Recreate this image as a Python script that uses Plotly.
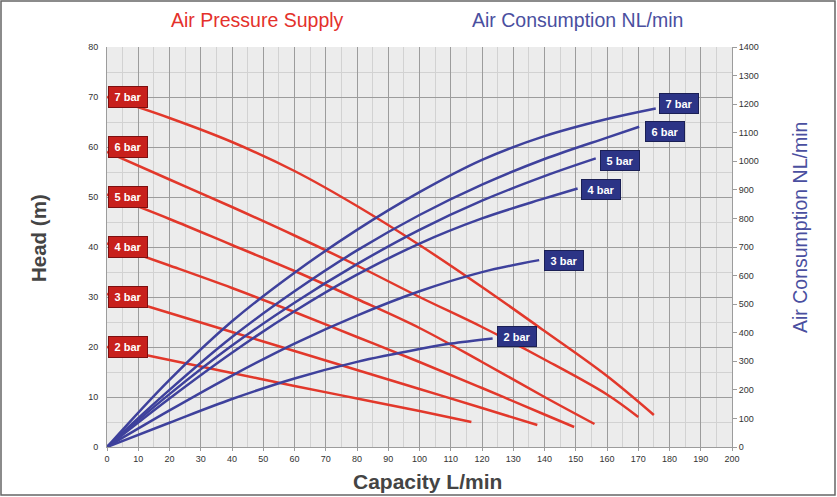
import plotly.graph_objects as go

# Head (m) vs capacity (L/min) for each air supply pressure
head_x = {
    "7 bar": [0, 20, 40, 60, 80, 100, 120, 140, 160, 175],
    "6 bar": [0, 20, 40, 60, 80, 100, 120, 140, 160, 170],
    "5 bar": [0, 20, 40, 60, 80, 100, 120, 140, 156],
    "4 bar": [0, 20, 40, 60, 80, 100, 120, 140, 149.5],
    "3 bar": [0, 20, 40, 60, 80, 100, 120, 137.7],
    "2 bar": [0, 20, 40, 60, 80, 100, 116.6],
}
head_y = {
    "7 bar": [70, 65.8, 61, 55.2, 48.2, 40.4, 32, 23.2, 14.2, 6.4],
    "6 bar": [59, 53.5, 48, 42.3, 36.3, 30, 24, 17.5, 10.5, 6],
    "5 bar": [50.5, 45.6, 40.4, 35.2, 29.6, 23.8, 17, 10, 4.6],
    "4 bar": [40.7, 36.3, 31.8, 27, 22, 17, 11.8, 6.5, 4],
    "3 bar": [30.6, 26.8, 23, 19.2, 15.4, 11.6, 7.8, 4.4],
    "2 bar": [20, 17.4, 14.8, 12.2, 9.7, 7.2, 5],
}

# Air consumption (NL/min) vs capacity (L/min)
air_x = {
    "7 bar": [0, 20, 40, 60, 80, 100, 120, 140, 160, 175.6],
    "6 bar": [0, 20, 40, 60, 80, 100, 120, 140, 160, 170.3],
    "5 bar": [0, 20, 40, 60, 80, 100, 120, 140, 156.4],
    "4 bar": [0, 20, 40, 60, 80, 100, 120, 140, 150.6],
    "3 bar": [0, 20, 40, 60, 80, 100, 120, 138.3],
    "2 bar": [0, 20, 40, 60, 80, 100, 110, 123.4],
}
air_y = {
    "7 bar": [0, 235, 440, 610, 760, 892, 1005, 1088, 1148, 1185],
    "6 bar": [0, 200, 385, 545, 688, 812, 918, 1008, 1083, 1121],
    "5 bar": [0, 185, 355, 505, 640, 760, 862, 948, 1010],
    "4 bar": [0, 170, 330, 475, 603, 712, 800, 870, 905],
    "3 bar": [0, 128, 250, 362, 460, 545, 612, 654],
    "2 bar": [0, 85, 168, 240, 298, 343, 362, 380],
}

# label positions
red_label_y = {"7 bar": 70, "6 bar": 60, "5 bar": 50, "4 bar": 40, "3 bar": 30, "2 bar": 20}
blue_label_pos = {
    "7 bar": (183, 1204), "6 bar": (178.6, 1103), "5 bar": (164, 1004),
    "4 bar": (158, 900), "3 bar": (146.3, 654), "2 bar": (131.3, 388),
}

RED = "#e2382b"
BLUE = "#3e419c"

fig = go.Figure()

for key in head_x:
    fig.add_trace(go.Scatter(x=head_x[key], y=head_y[key], mode="lines",
                             line=dict(color=RED, width=2.5, shape="spline"),
                             showlegend=False, hoverinfo="skip"))
for key in air_x:
    fig.add_trace(go.Scatter(x=air_x[key], y=air_y[key], mode="lines", yaxis="y2",
                             line=dict(color=BLUE, width=2.5, shape="spline"),
                             showlegend=False, hoverinfo="skip"))

for key, yv in red_label_y.items():
    fig.add_annotation(x=0.2, y=yv, xref="x", yref="y", text="<b>%s</b>" % key,
                       showarrow=False, xanchor="left", yanchor="middle",
                       width=36, height=18, borderpad=1,
                       bgcolor="#c8201c", bordercolor="#7c1010", borderwidth=1,
                       font=dict(color="white", size=11, family="Liberation Sans"))
for key, (xv, yv) in blue_label_pos.items():
    fig.add_annotation(x=xv, y=yv, xref="x", yref="y2", text="<b>%s</b>" % key,
                       showarrow=False, xanchor="center", yanchor="middle",
                       width=36, height=17, borderpad=1,
                       bgcolor="#2c3486", bordercolor="#1a1f55", borderwidth=1,
                       font=dict(color="white", size=11, family="Liberation Sans"))

# headings and axis titles
fig.add_annotation(x=0.24, y=1.0675, xref="paper", yref="paper", text="Air Pressure Supply",
                   showarrow=False, xanchor="center", yanchor="middle",
                   font=dict(color="#e4312b", size=19.5, family="Liberation Sans"))
fig.add_annotation(x=0.752, y=1.0675, xref="paper", yref="paper", text="Air Consumption NL/min",
                   showarrow=False, xanchor="center", yanchor="middle",
                   font=dict(color="#4a4fa0", size=19.5, family="Liberation Sans"))
fig.add_annotation(x=1.1088, y=0.5475, xref="paper", yref="paper", text="Air Consumption NL/min",
                   textangle=-90, showarrow=False, xanchor="center", yanchor="middle",
                   font=dict(color="#4a4fa0", size=19.5, family="Liberation Sans"))
fig.add_annotation(x=-0.1104, y=0.5225, xref="paper", yref="paper", text="<b>Head (m)</b>",
                   textangle=-90, showarrow=False, xanchor="center", yanchor="middle",
                   font=dict(color="#444444", size=20.5, family="Liberation Sans"))
fig.add_annotation(x=0.512, y=-0.0875, xref="paper", yref="paper", text="<b>Capacity L/min</b>",
                   showarrow=False, xanchor="center", yanchor="middle",
                   font=dict(color="#444444", size=21, family="Liberation Sans"))

# outer frame
fig.add_shape(type="rect", xref="paper", yref="paper", x0=-0.1696, x1=1.1648, y0=-0.12, y1=1.115,
              line=dict(color="#666666", width=1.5), layer="below")

tickfont = dict(size=9, color="#333333", family="Liberation Sans")
fig.update_xaxes(range=[0, 200], dtick=10, tickfont=tickfont, showgrid=True,
                 gridcolor="#9c9c9c", gridwidth=1, zeroline=False,
                 minor=dict(dtick=5, showgrid=True, gridcolor="#d2d2d2"),
                 showline=True, linecolor="#9c9c9c", ticks="outside", ticklen=3,
                 tickcolor="#9c9c9c", fixedrange=True)
fig.update_layout(
    width=837, height=497,
    margin=dict(l=107, r=105, t=47, b=50),
    paper_bgcolor="white", plot_bgcolor="#ececec",
    yaxis=dict(range=[0, 80], dtick=10, tickfont=tickfont, showgrid=True,
               gridcolor="#9c9c9c", zeroline=False,
               minor=dict(dtick=5, showgrid=True, gridcolor="#d2d2d2"),
               showline=True, linecolor="#9c9c9c", ticks="", ticklabelstandoff=6),
    yaxis2=dict(range=[0, 1400], dtick=100, overlaying="y", side="right", tickfont=tickfont,
                showgrid=False, zeroline=False, showline=True, linecolor="#9c9c9c",
                ticks="outside", ticklen=4, tickcolor="#9c9c9c"),
    showlegend=False,
)

# the page body has a default 8px margin; drop it so the figure sits at the window corner
fig.write_html("out.html", config={"displayModeBar": False},
               post_script="document.body.style.margin='0';")
